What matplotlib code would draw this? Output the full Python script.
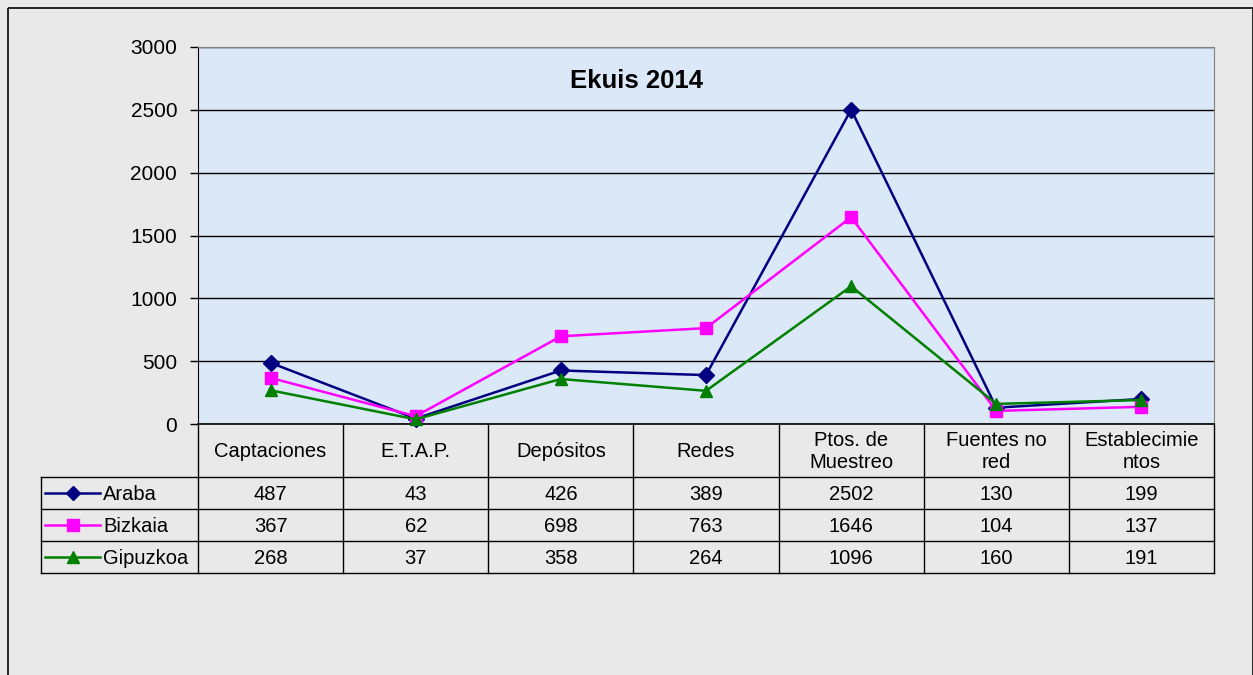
import matplotlib
matplotlib.use("Agg")
import matplotlib.pyplot as plt
from matplotlib.lines import Line2D
from matplotlib.patches import Rectangle

plt.rcParams['font.family'] = ['Liberation Sans', 'DejaVu Sans']

title = "Ekuis 2014"
categories = ["Captaciones", "E.T.A.P.", "Depósitos", "Redes",
              "Ptos. de\nMuestreo", "Fuentes no\nred", "Establecimie\nntos"]
series_names = ["Araba", "Bizkaia", "Gipuzkoa"]
araba = [487, 43, 426, 389, 2502, 130, 199]
bizkaia = [367, 62, 698, 763, 1646, 104, 137]
gipuzkoa = [268, 37, 358, 264, 1096, 160, 191]
y_ticks = [0, 500, 1000, 1500, 2000, 2500, 3000]

series_values = [araba, bizkaia, gipuzkoa]
colors = ["#000080", "#ff00ff", "#008000"]
markers = ["D", "s", "^"]
msizes = [8, 9, 9]

W, H = 1253, 675
fig = plt.figure(figsize=(W / 100, H / 100), dpi=100)
fig.patch.set_facecolor("#e9e9e9")

# overlay axes in pixel coordinates for table and frame
ov = fig.add_axes([0, 0, 1, 1], zorder=0)
ov.set_xlim(0, W)
ov.set_ylim(H, 0)
ov.axis("off")
ov.add_patch(Rectangle((8, 8), W - 8, H, fill=False, edgecolor="black", lw=1.2))

# plot area
L, R, T, B = 198, 1214, 47, 424
ax = fig.add_axes([L / W, 1 - B / H, (R - L) / W, (B - T) / H], zorder=1)
ax.set_facecolor("#dbe8f7")
n = len(categories)
ax.set_xlim(-0.5, n - 0.5)
ax.set_ylim(0, 3000)
ax.set_yticks(y_ticks)
ax.set_yticklabels([str(v) for v in y_ticks], fontsize=15)
ax.tick_params(axis="y", direction="out", length=6, width=1, pad=9, colors="black")
ax.set_xticks([])
ax.grid(axis="y", color="black", lw=1)
ax.set_axisbelow(True)
for s in ["top", "right"]:
    ax.spines[s].set_color("#808080")
ax.spines["left"].set_color("black")
ax.spines["bottom"].set_color("black")
ax.spines["bottom"].set_linewidth(1.2)

xs = list(range(n))
for vals, c, m, ms in zip(series_values, colors, markers, msizes):
    ax.plot(xs, vals, color=c, lw=1.8, marker=m, markersize=ms,
            markerfacecolor=c, markeredgecolor=c, clip_on=False, zorder=3)

ax.text(0.432, 0.91, title, transform=ax.transAxes, ha="center", va="center",
        fontsize=18.5, fontweight="bold")

# data table
col_w = (R - L) / n
hdr_top, hdr_bot = B, 477
row_h = 32
rows_y = [hdr_bot + i * row_h for i in range(len(series_names) + 1)]
leg_left = 41
lk = dict(color="black", lw=1)
for i in range(n + 1):
    x = L + i * col_w
    ov.add_line(Line2D([x, x], [hdr_top, rows_y[-1]], **lk))
ov.add_line(Line2D([leg_left, leg_left], [hdr_bot, rows_y[-1]], **lk))
for y in rows_y:
    ov.add_line(Line2D([leg_left, R], [y, y], **lk))
fs = 14.5
for i, cat in enumerate(categories):
    cx = L + (i + 0.5) * col_w
    ov.text(cx, (hdr_top + hdr_bot) / 2 + 1, cat, ha="center", va="center",
            fontsize=fs, linespacing=1.2)
for r, (name, vals, c, m, ms) in enumerate(zip(series_names, series_values, colors, markers, msizes)):
    cy = (rows_y[r] + rows_y[r + 1]) / 2
    ov.add_line(Line2D([45, 100], [cy, cy], color=c, lw=1.8))
    ov.add_line(Line2D([72.5], [cy], color=c, marker=m, markersize=ms - 1,
                       markerfacecolor=c, markeredgecolor=c))
    ov.text(103, cy + 1, name, ha="left", va="center", fontsize=fs)
    for i, v in enumerate(vals):
        cx = L + (i + 0.5) * col_w
        ov.text(cx, cy + 1, str(v), ha="center", va="center", fontsize=fs)

fig.savefig("out.png", dpi=100, facecolor=fig.get_facecolor())
